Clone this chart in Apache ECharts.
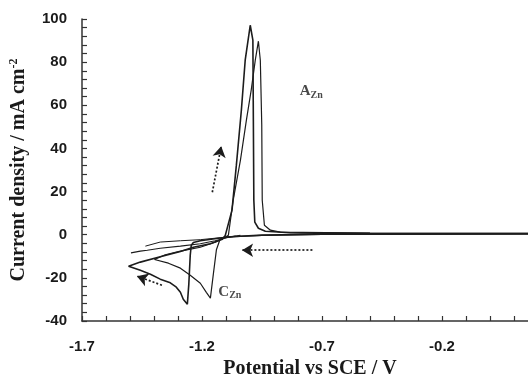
<!DOCTYPE html>
<html>
<head>
<meta charset="utf-8">
<script src="https://cdn.jsdelivr.net/npm/echarts@6/dist/echarts.min.js"></script>
<style>
  html, body { margin: 0; padding: 0; background: #fff; overflow: hidden; }
  #chart { width: 528px; height: 381px; }
</style>
</head>
<body>
<div id="chart"></div>
<script>
// Cyclic voltammograms: [potential vs SCE (V), current density (mA cm-2)]
const cycleA = [
  [0.16, 0.5], [-0.2, 0.4], [-0.7, 0.2], [-0.95, -0.2], [-1.06, -0.8], [-1.124, -1.5],
  [-1.207, -2.8], [-1.236, -3.6], [-1.245, -5.0], [-1.249, -9.5], [-1.255, -23.0],
  [-1.261, -32.2], [-1.278, -29.9], [-1.29, -26.7], [-1.307, -24.3], [-1.332, -22.3],
  [-1.374, -20.6], [-1.415, -18.3], [-1.457, -16.5], [-1.506, -14.6],
  [-1.457, -12.7], [-1.374, -10.2], [-1.29, -7.8], [-1.236, -5.8], [-1.166, -4.2],
  [-1.115, -2.1], [-1.103, -0.3], [-1.075, 11.4], [-1.057, 32.0], [-1.036, 57.7],
  [-1.02, 80.9], [-0.999, 97.1], [-0.988, 90.2], [-0.986, 53.1], [-0.984, 16.0],
  [-0.98, 5.8], [-0.965, 3.0], [-0.936, 1.6], [-0.832, 0.9], [-0.5, 0.6], [0.16, 0.5]
];
const cycleB = [
  [0.16, 0.3], [-0.7, 0.2], [-0.95, -0.3], [-1.09, -1.0], [-1.124, -1.9], [-1.132, -2.5],
  [-1.14, -7.0], [-1.153, -18.5], [-1.165, -29.4], [-1.182, -26.7], [-1.207, -22.5],
  [-1.249, -18.8], [-1.29, -15.5], [-1.34, -13.2], [-1.398, -11.5],
  [-1.353, -9.3], [-1.29, -7.6], [-1.207, -5.8], [-1.145, -3.5], [-1.111, -1.6],
  [-1.09, -0.2], [-1.07, 16.0], [-1.04, 34.5], [-1.015, 53.1], [-0.995, 67.0],
  [-0.978, 80.9], [-0.965, 89.7], [-0.957, 80.9], [-0.951, 50.8], [-0.949, 16.0],
  [-0.94, 4.4], [-0.915, 2.1], [-0.874, 1.2], [-0.5, 0.7], [0.16, 0.6]
];
const traceC1 = [
  [-1.496, -8.4], [-1.457, -7.6], [-1.428, -7.2], [-1.374, -6.3], [-1.29, -5.3],
  [-1.207, -4.2], [-1.145, -2.8], [-1.09, -1.2], [-1.04, -0.3]
];
const traceC2 = [
  [-1.436, -5.3], [-1.374, -3.4], [-1.29, -2.8], [-1.207, -2.3], [-1.124, -1.4], [-1.06, -0.6]
];

// Sweep-direction arrows: [from, to]
const sweepArrows = [
  [[-1.157, 19.7], [-1.12, 41.0]],
  [[-0.74, -7.2], [-1.033, -7.2]],
  [[-1.367, -23.4], [-1.471, -19.2]]
];

// Peak annotations
const peakNotes = [
  { main: 'A', sub: 'Zn', at: [-0.793, 66.5] },
  { main: 'C', sub: 'Zn', at: [-1.132, -26.5] }
];

const xRange = [-1.7, 0.3];
const yRange = [-40, 100];

const INK = '#1c1c1c';
const tickFont = { fontFamily: 'Liberation Sans', fontWeight: 'bold', fontSize: 15, color: '#1a1a1a' };
const titleFont = 'Liberation Serif';

const chart = echarts.init(document.getElementById('chart'), null, { renderer: 'canvas' });

const curve = (data, width) => ({
  type: 'line', data, showSymbol: false, symbol: 'none', smooth: false,
  lineStyle: { color: INK, width }, silent: true, z: 3
});

chart.setOption({
  animation: false,
  backgroundColor: '#fff',
  // plot area runs past the right edge of the canvas, so the axis is cut there
  grid: { left: 82, width: 480, top: 19, height: 302, containLabel: false, outerBoundsMode: 'none' },
  xAxis: {
    type: 'value', min: xRange[0], max: xRange[1], interval: 0.5,
    name: 'Potential vs SCE / V', nameLocation: 'middle', nameGap: 38,
    // centred on the visible part of the axis
    nameTextStyle: { fontFamily: titleFont, fontWeight: 'bold', fontSize: 20, color: '#1a1a1a', padding: [0, 24, 0, 0] },
    axisLine: { onZero: false, lineStyle: { color: '#333', width: 1.5 } },
    axisTick: { inside: true, length: 5, lineStyle: { color: '#333', width: 1.2 } },
    minorTick: { show: true, splitNumber: 5, length: 5, lineStyle: { color: '#333', width: 1.2 } },
    axisLabel: Object.assign({ margin: 18, showMaxLabel: false, formatter: v => v.toFixed(1) }, tickFont),
    splitLine: { show: false }
  },
  yAxis: {
    type: 'value', min: yRange[0], max: yRange[1], interval: 20,
    name: '{t|Current density / mA cm}{s|-2}', nameLocation: 'middle', nameGap: 52, nameRotate: 90,
    nameTextStyle: {
      rich: {
        t: { fontFamily: titleFont, fontWeight: 'bold', fontSize: 20, color: '#1a1a1a' },
        s: { fontFamily: titleFont, fontWeight: 'bold', fontSize: 12, color: '#1a1a1a', padding: [0, 0, 10, 0] }
      }
    },
    axisLine: { onZero: false, lineStyle: { color: '#333', width: 1.5 } },
    axisTick: { inside: true, length: 5, lineStyle: { color: '#333', width: 1.2 } },
    minorTick: { show: true, splitNumber: 5, length: 5, lineStyle: { color: '#333', width: 1.2 } },
    axisLabel: Object.assign({ margin: 15 }, tickFont),
    splitLine: { show: false }
  },
  series: [
    curve(cycleA, 1.6),
    curve(cycleB, 1.2),
    curve(traceC1, 1.1),
    curve(traceC2, 1.0),
    {
      type: 'line', data: [], silent: true,
      markLine: {
        silent: true, animation: false,
        symbol: ['none', 'arrow'], symbolSize: [10, 11],
        label: { show: false },
        lineStyle: { color: INK, width: 1.7, type: [2, 2] },
        emphasis: { disabled: true },
        data: sweepArrows.map(([a, b]) => [{ coord: a }, { coord: b }])
      }
    },
    {
      type: 'scatter', symbolSize: 0, silent: true,
      data: peakNotes.map(n => ({ value: n.at, note: n })),
      label: {
        show: true, position: 'right', distance: 0,
        formatter: p => '{m|' + p.data.note.main + '}{s|' + p.data.note.sub + '}',
        rich: {
          m: { fontFamily: titleFont, fontWeight: 'bold', fontSize: 15, color: '#1a1a1a' },
          s: { fontFamily: titleFont, fontWeight: 'bold', fontSize: 10, color: '#1a1a1a', padding: [8, 0, 0, 0] }
        }
      }
    }
  ]
});
</script>
</body>
</html>
